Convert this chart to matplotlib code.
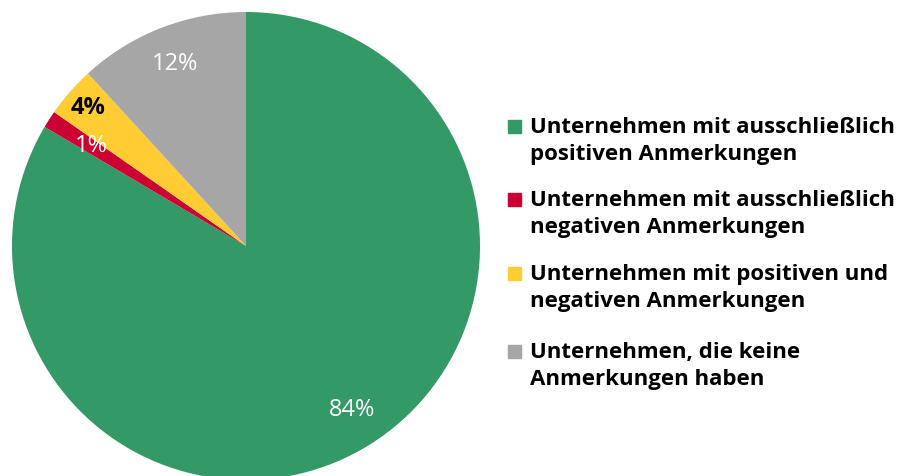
import numpy as np
import matplotlib.pyplot as plt
from matplotlib.patches import Rectangle

# data
categories = [
    "Unternehmen mit ausschließlich\npositiven Anmerkungen",
    "Unternehmen mit ausschließlich\nnegativen Anmerkungen",
    "Unternehmen mit positiven und\nnegativen Anmerkungen",
    "Unternehmen, die keine\nAnmerkungen haben",
]
shares = [83.5, 1.2, 3.5, 11.8]
pct_labels = ["84%", "1%", "4%", "12%"]

colors = ["#339966", "#CC0033", "#FFCC33", "#A6A6A6"]
label_colors = ["white", "white", "black", "white"]
label_weights = ["normal", "normal", "bold", "normal"]
label_radius = [0.83, 0.79, 0.90, 0.84]
label_turn = [3.5, -0.5, 0, 0]   # degrees, nudges the label off the wedge middle

plt.rcParams['font.family'] = ['Open Sans', 'DejaVu Sans']

W, H = 901, 477
fig = plt.figure(figsize=(W / 100, H / 100), dpi=100)

# pie axes: centre (246, 247) px, radius 234 px
cx, cy, r = 246, 247, 234
ax = fig.add_axes([(cx - r) / W, (H - cy - r) / H, 2 * r / W, 2 * r / H])
wedges, _ = ax.pie(shares, colors=colors, startangle=90, counterclock=False,
                   radius=1, wedgeprops=dict(linewidth=0))
ax.set_xlim(-1, 1)
ax.set_ylim(-1, 1)
ax.set_aspect('auto')
ax.axis('off')

for w, lab, c, fw, rr, dt in zip(wedges, pct_labels, label_colors,
                                 label_weights, label_radius, label_turn):
    mid = np.deg2rad((w.theta1 + w.theta2) / 2 + dt)
    ax.text(rr * np.cos(mid), rr * np.sin(mid), lab, ha='center', va='center',
            color=c, fontsize=17, fontweight=fw)

# legend drawn by hand
legend_y = [127, 200, 274, 352]
for cat, col, y in zip(categories, colors, legend_y):
    fig.patches.append(Rectangle((508 / W, (H - y - 7) / H), 13 / W, 13 / H,
                                 transform=fig.transFigure, color=col))
    fig.text(530 / W, (H - y + 10) / H, cat, ha='left', va='top',
             fontsize=16, fontweight='bold', color='black', linespacing=1.39)

fig.savefig("out.png", dpi=100)
